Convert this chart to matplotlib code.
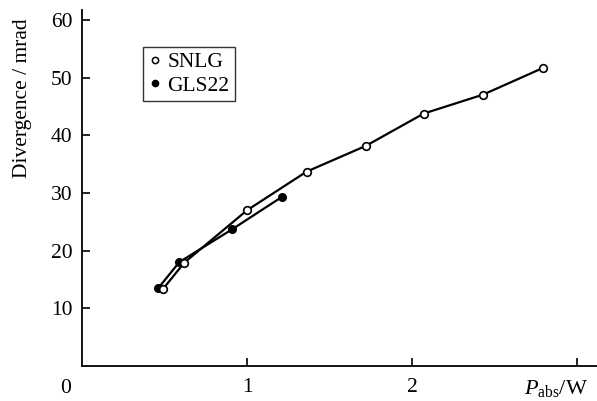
import matplotlib.pyplot as plt
from matplotlib.lines import Line2D

plt.rcParams['font.family'] = ['Liberation Serif', 'DejaVu Serif']
plt.rcParams['mathtext.fontset'] = 'custom'
plt.rcParams['mathtext.rm'] = 'Liberation Serif'
plt.rcParams['mathtext.it'] = 'Liberation Serif:italic'

# absorbed power (W) vs divergence (mrad)
snlg_p = [0.49, 0.62, 1.00, 1.36, 1.72, 2.07, 2.43, 2.79]
snlg_div = [13.3, 17.9, 27.0, 33.7, 38.2, 43.8, 47.1, 51.7]
gls_p = [0.46, 0.59, 0.91, 1.21]
gls_div = [13.4, 18.0, 23.7, 29.3]

fig = plt.figure(figsize=(5.97, 4.01), dpi=100)
ax = fig.add_axes([0.1374, 0.0883, 0.8626, 0.8867])

ax.plot(gls_p, gls_div, '-o', color='black', lw=1.6, ms=5.5,
        mfc='black', mec='black', zorder=2)
ax.plot(snlg_p, snlg_div, '-o', color='black', lw=1.6, ms=5.5,
        mfc='white', mec='black', mew=1.2, zorder=3)

ax.set_xlim(0, 3.12)
ax.set_ylim(0, 61.8)
ax.spines['top'].set_visible(False)
ax.spines['right'].set_visible(False)
for s in ('left', 'bottom'):
    ax.spines[s].set_linewidth(1.3)

ax.set_xticks([1, 2, 3])
ax.set_xticklabels(['1', '2', ''])
ax.set_yticks([10, 20, 30, 40, 50, 60])
ax.tick_params(direction='in', length=6, width=1.2, labelsize=15.5)
ax.tick_params(axis='x', pad=9)
ax.tick_params(axis='y', pad=7)

ax.text(-0.1, -0.065, '0', transform=ax.get_xaxis_transform(),
        ha='center', va='center', fontsize=15.5)
ax.set_xlabel(r'$P_{\rm abs}$/W', fontsize=16)
ax.xaxis.set_label_coords(0.92, -0.065)
ax.xaxis.label.set_va('center')
ax.set_ylabel('Divergence / mrad', fontsize=15.5)
ax.yaxis.set_label_coords(-0.097, 0.753)
ax.yaxis.label.set_ha('center')

handles = [
    Line2D([], [], ls='none', marker='o', ms=4.5, mfc='white', mec='black', mew=1.1),
    Line2D([], [], ls='none', marker='o', ms=4.5, mfc='black', mec='black'),
]
leg = ax.legend(handles, ['SNLG', 'GLS22'], loc='upper left',
                bbox_to_anchor=(0.118, 0.896), fontsize=15.5, frameon=True,
                fancybox=False, edgecolor='black', handlelength=0.6,
                handletextpad=0.3, borderpad=0.25, labelspacing=0.15,
                borderaxespad=0)
leg.get_frame().set_linewidth(1.0)

fig.savefig('out.png', dpi=100)
